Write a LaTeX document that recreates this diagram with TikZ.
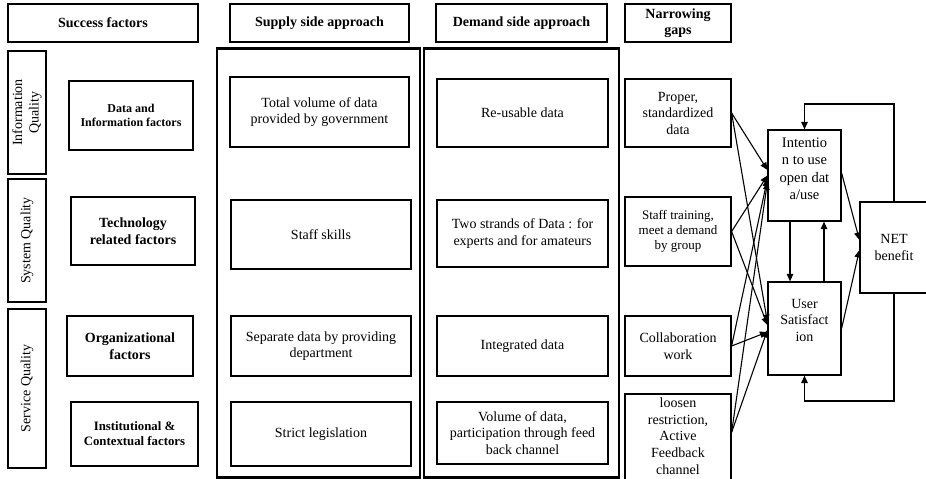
\documentclass[tikz,border=0pt]{standalone}
\usepackage{fontspec}
\setmainfont{Liberation Serif}
\usetikzlibrary{arrows.meta,calc}
\begin{document}
\begin{tikzpicture}[x=1pt,y=-1pt,
  bx/.style={draw, line width=1.2pt, inner sep=0pt, align=center, font=\fontsize{14}{16.5}\selectfont},
  hd/.style={bx, font=\fontsize{14}{16}\selectfont\bfseries},
  bigbox/.style={draw, line width=2.8pt, inner sep=0pt},
  txt/.style={inner sep=0pt, align=center, font=\fontsize{14}{16.5}\selectfont},
  arr/.style={line width=1.1pt, -{Triangle[length=7.5pt,width=6.5pt]}}]
\useasboundingbox (0,0) rectangle (926,479);

% headers
\node[hd, minimum width=190pt, minimum height=38pt] (hsf) at (103,23) {Success factors};
\node[hd, minimum width=179pt, minimum height=38pt] (hsup) at (319.5,23) {Supply side approach};
\node[hd, minimum width=171pt, minimum height=38pt] (hdem) at (521.5,23) {Demand side approach};
\node[hd, minimum width=106pt, minimum height=38pt] (hnar) at (678,23) {Narrowing\\gaps};

% quality boxes
\node[bx, rotate=90, minimum width=123pt, minimum height=38pt] (qinf) at (27,112.5) {Information\\Quality};
\node[bx, rotate=90, minimum width=123pt, minimum height=38pt] (qsys) at (27,240.5) {System Quality};
\node[bx, rotate=90, minimum width=159pt, minimum height=38pt] (qser) at (27,388.5) {Service Quality};

% factors
\node[bx, minimum width=124pt, minimum height=69pt, font=\fontsize{12}{14.5}\selectfont\bfseries] (fdat) at (131,115.5) {Data and\\Information factors};
\node[bx, minimum width=124pt, minimum height=68pt, font=\fontsize{14}{16.5}\selectfont\bfseries] (ftec) at (133,231) {Technology\\related factors};
\node[bx, minimum width=126pt, minimum height=60pt, font=\fontsize{14}{16.5}\selectfont\bfseries] (forg) at (130,346) {Organizational\\factors};
\node[bx, minimum width=127pt, minimum height=64pt, font=\fontsize{12.8}{15}\selectfont\bfseries] (fins) at (134.5,434) {Institutional \&\\Contextual factors};

% thick frames
\node[bigbox, minimum width=203pt, minimum height=429pt] (supframe) at (318.5,263) {};
\node[bigbox, minimum width=195pt, minimum height=429pt] (demframe) at (521.5,263) {};

% supply
\node[bx, minimum width=179pt, minimum height=70pt] (s1) at (319.5,112) {Total volume of data\\provided by government};
\node[bx, minimum width=180pt, minimum height=69pt] (s2) at (321,234.5) {Staff skills};
\node[bx, minimum width=180pt, minimum height=60pt] (s3) at (321,346) {Separate data by providing\\department};
\node[bx, minimum width=180pt, minimum height=64pt] (s4) at (321,434) {Strict legislation};

% demand
\node[bx, minimum width=171pt, minimum height=68pt] (d1) at (522.5,113) {Re-usable data};
\node[bx, minimum width=171pt, minimum height=67pt] (d2) at (522.5,233.5) {Two strands of Data : for\\experts and for amateurs};
\node[bx, minimum width=171pt, minimum height=60pt] (d3) at (522.5,346) {Integrated data};
\node[bx, minimum width=171pt, minimum height=62pt] (d4) at (522.5,433) {Volume of data,\\participation through feed\\back channel};

% narrowing gaps
\node[bx, minimum width=106pt, minimum height=68pt] (n1) at (678,113) {Proper,\\standardized\\data};
\node[bx, minimum width=106pt, minimum height=69pt, font=\fontsize{13}{15}\selectfont] (n2) at (678,231.5) {Staff training,\\meet a demand\\by group};
\node[bx, minimum width=106pt, minimum height=60pt] (n3) at (678,346) {Collaboration\\work};
\node[bx, minimum width=106pt, minimum height=106pt] (n4) at (678,447) {};
\node[txt, font=\fontsize{14}{16.7}\selectfont] (n4t) at (678,436) {loosen\\restriction,\\Active\\Feedback\\channel};

% outcome boxes
\node[bx, minimum width=73pt, minimum height=91pt] (int) at (804.5,175.5) {};
\node[txt, font=\fontsize{14.5}{17.5}\selectfont] (intt) at (804.5,169) {Intentio\\n to use\\open dat\\a/use};
\node[bx, minimum width=73pt, minimum height=93pt] (usr) at (804.5,328.5) {};
\node[txt] (usrt) at (804.5,320) {User\\Satisfact\\ion};
\node[bx, minimum width=68pt, minimum height=91pt] (net) at (894,247.5) {NET\\benefit};

% arrows from narrowing gaps
\draw[arr] (n1.east) -- ([yshift=5.5pt]int.west);
\draw[arr] (n1.east) -- ([yshift=6.5pt]usr.west);
\draw[arr] (n2.east) -- ([yshift=0pt]int.west);
\draw[arr] (n2.east) -- ([yshift=3.5pt]usr.west);
\draw[arr] (n3.east) -- ([yshift=-3.5pt]int.west);
\draw[arr] (n3.east) -- ([yshift=-3.5pt]usr.west);
\draw[arr] ([yshift=-39pt]n4.north east) -- ([yshift=-6.5pt]int.west);
\draw[arr] ([yshift=-39pt]n4.north east) -- ([yshift=-1.5pt]usr.west);

% between outcomes
\draw[arr] ([xshift=-14.5pt]int.south) -- ([xshift=-14.5pt]usr.north);
\draw[arr] ([xshift=19.5pt]usr.north) -- ([xshift=19.5pt]int.south);
\draw[arr] ([yshift=2.5pt]int.east) -- ([yshift=7.5pt]net.west);
\draw[arr] (usr.east) -- ([yshift=-2.5pt]net.west);

% feedback loops
\coordinate (ftop) at (894,104);
\coordinate (fbot) at (894,401);
\draw[arr] (net.north) -- (ftop) -| (int.north);
\draw[arr] (net.south) -- (fbot) -| (usr.south);
\end{tikzpicture}
\end{document}
